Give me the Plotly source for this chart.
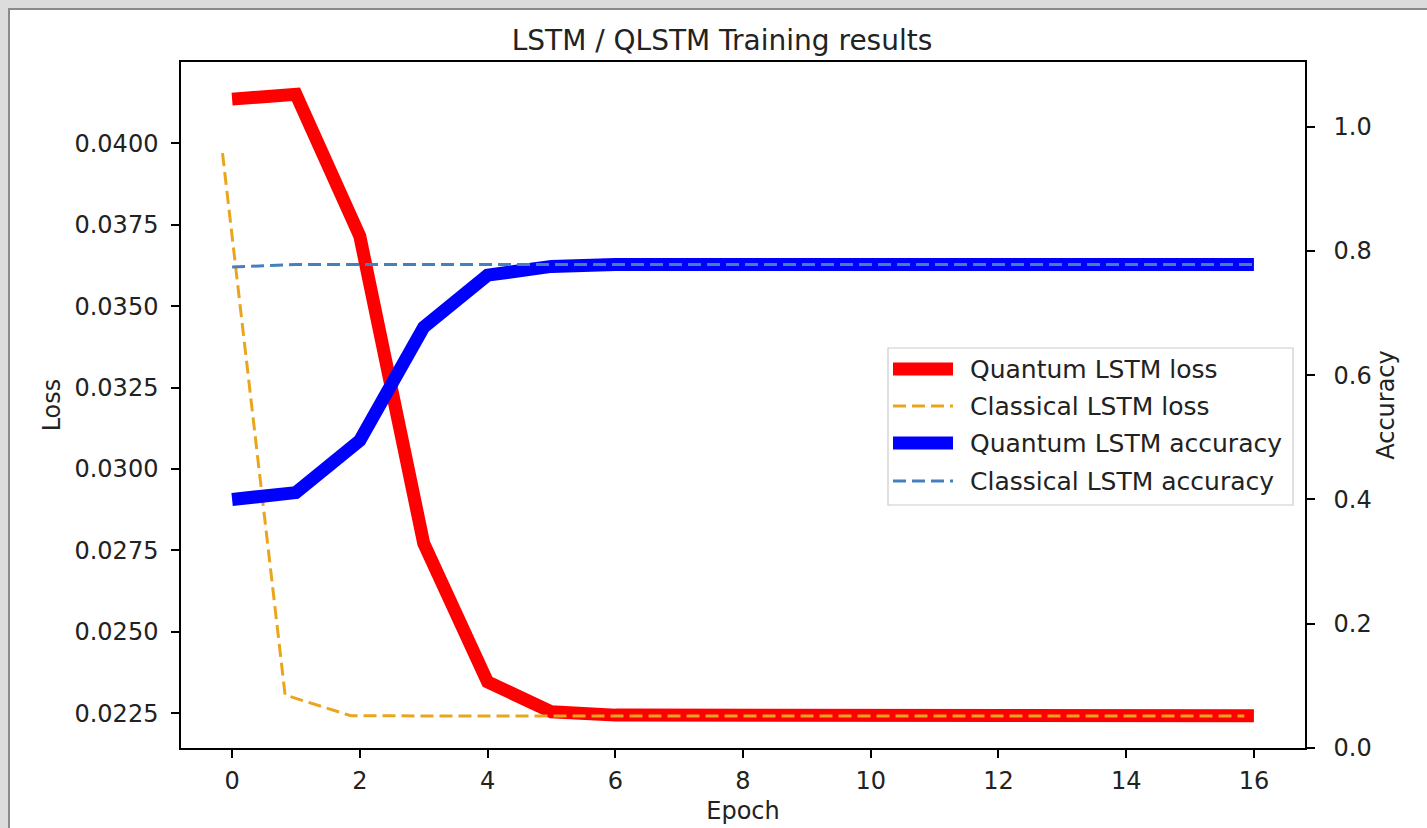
import plotly.graph_objects as go

# ---- data ----
epochs = list(range(17))
quantum_loss = [0.04136, 0.04151, 0.03715, 0.02772, 0.02346, 0.02254, 0.02244, 0.02243,
                0.02242, 0.02242, 0.02242, 0.02242, 0.02242, 0.02242, 0.02242, 0.02242, 0.02242]
classical_epochs = [-0.15, 0.83, 1.86, 2.85, 3.85, 4.85, 5.85, 6.85, 7.85, 8.85, 9.85,
                    10.85, 11.85, 12.85, 13.85, 14.85, 15.85]
classical_loss = [0.03970, 0.02306, 0.02242, 0.02241, 0.02241, 0.02241, 0.02241, 0.02241,
                  0.02241, 0.02241, 0.02241, 0.02241, 0.02241, 0.02241, 0.02241, 0.02241, 0.02241]
quantum_acc = [0.400, 0.411, 0.495, 0.677, 0.761, 0.775, 0.778, 0.778, 0.778, 0.778,
               0.778, 0.778, 0.778, 0.778, 0.778, 0.778, 0.778]
classical_acc = [0.774, 0.778, 0.778, 0.778, 0.778, 0.778, 0.778, 0.778, 0.778, 0.778,
                 0.778, 0.778, 0.778, 0.778, 0.778, 0.778, 0.778]

series_names = ["Quantum LSTM loss", "Classical LSTM loss",
                "Quantum LSTM accuracy", "Classical LSTM accuracy"]
loss_ticks = [0.0225, 0.0250, 0.0275, 0.0300, 0.0325, 0.0350, 0.0375, 0.0400]
acc_ticks = [0.0, 0.2, 0.4, 0.6, 0.8, 1.0]
epoch_ticks = [0, 2, 4, 6, 8, 10, 12, 14, 16]

# ---- styles ----
RED = "#ff0000"
ORANGE = "#eaa51e"
BLUE = "#0000ff"
STEEL = "#4580bd"
FONT = "DejaVu Sans"
TXT = "#222222"

W, H = 1427, 828
L, R, T, B = 181, 122, 62, 80
PW, PH = W - L - R, H - T - B


def px(x):
    return (x - L) / PW


def py(y):
    return (H - B - y) / PH


DASH = "13px,6px"

fig = go.Figure()
fig.add_trace(go.Scatter(x=epochs, y=quantum_loss, name=series_names[0], mode="lines",
                         line=dict(color=RED, width=13), yaxis="y", showlegend=False))
fig.add_trace(go.Scatter(x=classical_epochs, y=classical_loss, name=series_names[1], mode="lines",
                         line=dict(color=ORANGE, width=3, dash=DASH), yaxis="y",
                         showlegend=False))
fig.add_trace(go.Scatter(x=epochs, y=quantum_acc, name=series_names[2], mode="lines",
                         line=dict(color=BLUE, width=13), yaxis="y2", showlegend=False))
fig.add_trace(go.Scatter(x=epochs, y=classical_acc, name=series_names[3], mode="lines",
                         line=dict(color=STEEL, width=3, dash=DASH), yaxis="y2",
                         showlegend=False))

axis_common = dict(showline=True, linecolor="black", linewidth=1.5, ticks="outside",
                   ticklen=8, tickwidth=1.5, tickcolor="black", showgrid=False, zeroline=False,
                   automargin=False, tickfont=dict(family=FONT, size=24, color=TXT))
title_font = dict(family=FONT, size=24, color=TXT)

fig.update_layout(
    width=W, height=H,
    margin=dict(l=L, r=R, t=T, b=B, pad=0),
    paper_bgcolor="#dcdcdc",
    plot_bgcolor="white",
    font=dict(family=FONT, color=TXT),
    title=dict(text="LSTM / QLSTM Training results", x=px(722), xref="paper", xanchor="center",
               y=1 - 40 / H, yref="container", yanchor="middle",
               font=dict(family=FONT, size=28, color=TXT)),
    xaxis=dict(range=[-0.8, 16.8], tickvals=epoch_ticks, mirror=True, ticklabelstandoff=2,
               title=dict(text="Epoch", font=title_font, standoff=9),
               **axis_common),
    yaxis=dict(range=[0.02143, 0.04250], tickvals=loss_ticks, tickformat=".4f", mirror=True,
               ticklabelstandoff=8,
               title=dict(text="Loss", font=title_font, standoff=7),
               **axis_common),
    yaxis2=dict(range=[0.0, 1.104], tickvals=acc_ticks, tickformat=".1f", overlaying="y",
                side="right", ticklabelstandoff=14,
                title=dict(text="Accuracy", font=title_font, standoff=3),
                **axis_common),
    showlegend=False,
)

shapes = []
# white figure panel with grey border
shapes.append(dict(type="rect", xref="paper", yref="paper", layer="below",
                   x0=px(9), x1=px(W + 20), y0=py(H + 20), y1=py(9),
                   fillcolor="white", line=dict(color="#8a8a8a", width=2)))

# manual legend box
lx0, lx1, ly0, ly1 = 888, 1293, 348, 505
shapes.append(dict(type="rect", xref="paper", yref="paper", layer="above",
                   x0=px(lx0), x1=px(lx1), y0=py(ly1), y1=py(ly0),
                   fillcolor="rgba(255,255,255,0.85)", line=dict(color="#cccccc", width=1.2)))
row_y = [369, 406, 443, 481]
styles = [dict(color=RED, width=13), dict(color=ORANGE, width=3, dash=DASH),
          dict(color=BLUE, width=13), dict(color=STEEL, width=3, dash=DASH)]
annotations = []
for name, yy, st in zip(series_names, row_y, styles):
    shapes.append(dict(type="line", xref="paper", yref="paper", layer="above",
                       x0=px(893), x1=px(953), y0=py(yy), y1=py(yy), line=st))
    annotations.append(dict(text=name, xref="paper", yref="paper", x=px(968), y=py(yy),
                            xanchor="left", yanchor="middle", showarrow=False,
                            font=dict(family=FONT, size=25, color=TXT)))

fig.update_layout(shapes=shapes, annotations=annotations)
fig.write_html("out.html")
